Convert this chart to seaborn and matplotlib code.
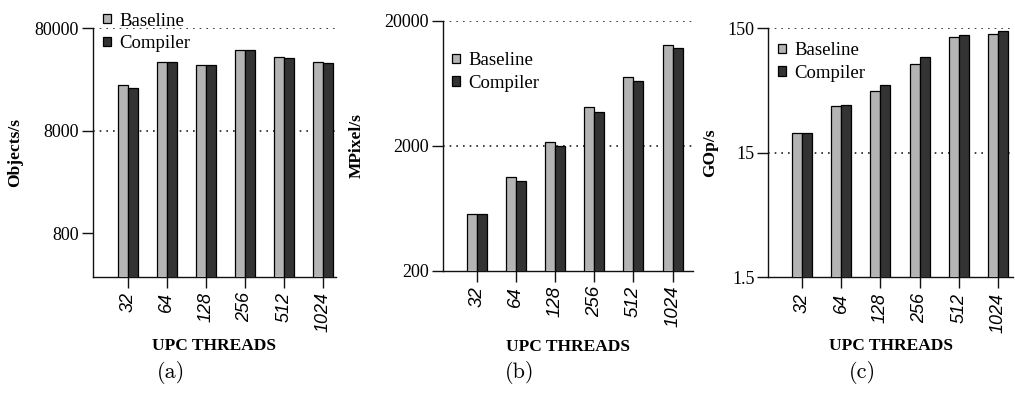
import matplotlib
matplotlib.use("Agg")
import matplotlib.pyplot as plt
import seaborn as sns
import pandas as pd

# UPC thread counts shared by all three panels
threads = ["32", "64", "128", "256", "512", "1024"]
series = ["Baseline", "Compiler"]

# (a) object throughput
objects_baseline = [22400, 37500, 35300, 49500, 42300, 37200]
objects_compiler = [21100, 37200, 35300, 49500, 41300, 36900]

# (b) pixel throughput
mpixel_baseline = [572, 1130, 2130, 4055, 7090, 12790]
mpixel_compiler = [572, 1044, 1989, 3700, 6620, 12020]

# (c) operation throughput
gops_baseline = [21.5, 35.7, 47.3, 78.0, 128.5, 135.0]
gops_compiler = [21.5, 36.5, 52.2, 88.7, 131.8, 141.9]

# y tick values and their labels per panel
objects_ticks = [800, 8000, 80000]
objects_ticklabels = ["800", "8000", "80000"]
mpixel_ticks = [200, 2000, 20000]
mpixel_ticklabels = ["200", "2000", "20000"]
gops_ticks = [1.5, 15, 150]
gops_ticklabels = ["1.5", "15", "150"]

ylabels = ["Objects/s", "MPixel/s", "GOp/s"]
xlabel = "UPC THREADS"
captions = ["(a)", "(b)", "(c)"]

palette = {"Baseline": "#b4b4b4", "Compiler": "#333333"}

sns.set_theme(style="white")
plt.rcParams["font.family"] = ["Liberation Serif", "DejaVu Serif"]
plt.rcParams["text.color"] = "black"
plt.rcParams["axes.labelcolor"] = "black"
plt.rcParams["xtick.color"] = "black"
plt.rcParams["ytick.color"] = "black"

fig = plt.figure(figsize=(10.15, 3.94), dpi=100)

W, H = 1015, 394


def axes_rect(left, right, top, bottom):
    return [left / W, 1 - bottom / H, (right - left) / W, (bottom - top) / H]


panels = [
    dict(rect=axes_rect(93, 336, 28.3, 277), base=objects_baseline, comp=objects_compiler,
         ticks=objects_ticks, labels=objects_ticklabels, ylim=(300, 80000),
         xlim=(-0.89, 5.33), ylab_x=-0.288, leg=(103, 12.5), cap=(171, 372), xpad=4),
    dict(rect=axes_rect(442.7, 693, 20.7, 270.7), base=mpixel_baseline, comp=mpixel_compiler,
         ticks=mpixel_ticks, labels=mpixel_ticklabels, ylim=(200, 20000),
         xlim=(-0.87, 5.52), ylab_x=-0.31, leg=(452, 52), cap=(520, 372), xpad=8),
    dict(rect=axes_rect(768.3, 1013, 28.3, 277.3), base=gops_baseline, comp=gops_compiler,
         ticks=gops_ticks, labels=gops_ticklabels, ylim=(1.5, 150),
         xlim=(-0.86, 5.38), ylab_x=-0.206, leg=(778, 42), cap=(862, 372), xpad=4),
]

for i, p in enumerate(panels):
    ax = fig.add_axes(p["rect"])
    df = pd.DataFrame({
        "threads": threads * 2,
        "series": [series[0]] * len(threads) + [series[1]] * len(threads),
        "value": p["base"] + p["comp"],
    })
    ax.set_yscale("log")
    sns.barplot(data=df, x="threads", y="value", hue="series", order=threads,
                hue_order=series, palette=palette, width=0.51, gap=0,
                edgecolor="black", linewidth=0.9, saturation=1, ax=ax, zorder=3)

    ax.set_ylim(*p["ylim"])
    ax.set_xlim(*p["xlim"])
    ax.set_yticks(p["ticks"])
    ax.set_yticklabels(p["labels"])
    ax.yaxis.set_minor_locator(matplotlib.ticker.NullLocator())

    # dotted reference lines at the upper decades
    for t in p["ticks"][1:]:
        ax.axhline(t, color="#222222", linewidth=1.2, linestyle=(0, (1, 3)), zorder=1)

    for side in ["top", "right"]:
        ax.spines[side].set_visible(False)
    for side in ["left", "bottom"]:
        ax.spines[side].set_color("#111111")
        ax.spines[side].set_linewidth(1.0)

    ax.tick_params(axis="y", which="major", direction="out", length=8, width=1,
                   color="#111111", labelsize=13, pad=2, left=True)
    ax.tick_params(axis="x", which="major", direction="out", length=8, width=1,
                   color="#111111", pad=3, bottom=True)
    for lab in ax.get_yticklabels():
        lab.set_fontfamily("Liberation Serif")
    for lab in ax.get_xticklabels():
        lab.set_fontfamily("Liberation Sans")
        lab.set_fontstyle("italic")
        lab.set_fontsize(13.5 if i == 1 else 13)
        lab.set_rotation(90)

    ax.set_xlabel(xlabel, fontsize=12.5, fontweight="bold", labelpad=p["xpad"])
    ax.set_ylabel(ylabels[i], fontsize=12.5, fontweight="bold")
    ax.yaxis.set_label_coords(p["ylab_x"], 0.5)

    handles, labels = ax.get_legend_handles_labels()
    if ax.get_legend() is not None:
        ax.get_legend().remove()
    lx, ly = p["leg"]
    ax.legend(handles, labels, loc="upper left",
              bbox_to_anchor=(lx / W, 1 - ly / H), bbox_transform=fig.transFigure,
              frameon=False, fontsize=13.5, borderpad=0, borderaxespad=0,
              handlelength=0.42, handleheight=0.38, handletextpad=0.45,
              labelspacing=0.3)

    cx, cy = p["cap"]
    fig.text(cx / W, 1 - cy / H, captions[i], family="cmr10", fontsize=16,
             ha="center", va="center")

fig.savefig("out.png", dpi=100)
